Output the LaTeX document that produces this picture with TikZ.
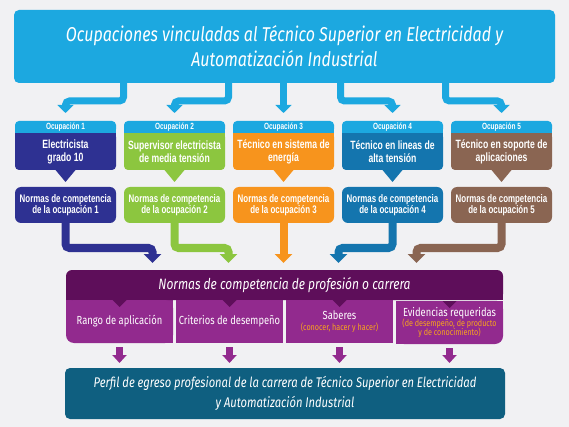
\documentclass[tikz,border=0pt]{standalone}
\usepackage{fontspec}
\setmainfont{Fira Sans}
\newfontfamily\condit[FakeStretch=0.8]{Fira Sans}
\newfontfamily\narrowbf[FakeStretch=0.72]{Liberation Sans}
\usetikzlibrary{positioning,arrows.meta}
\definecolor{bgc}{HTML}{F1F1F3}
\definecolor{cyanc}{HTML}{1CA8E0}
\definecolor{navyc}{HTML}{2E3192}
\definecolor{greenc}{HTML}{8CC63F}
\definecolor{orangec}{HTML}{F7941D}
\definecolor{bluec}{HTML}{1475AE}
\definecolor{brownc}{HTML}{8A6552}
\definecolor{plumc}{HTML}{5E0E5A}
\definecolor{violetc}{HTML}{922A8E}
\definecolor{tealc}{HTML}{0F5F80}
\definecolor{goldc}{HTML}{F9A51B}
\pgfdeclarelayer{background}
\pgfsetlayers{background,main}
\begin{document}
\begin{tikzpicture}
                    [x=1pt, y=-1pt,
                    topbox/.style={rectangle, rounded corners=5pt,
                        fill=cyanc, text=white, align=center,
                        minimum width=541pt, minimum height=73pt,
                        font=\condit\itshape\fontsize{20}{25}\selectfont},
                    occhead/.style={rectangle, rounded corners=4pt,
                        fill=cyanc, text=white, inner sep=0pt,
                        minimum width=101pt, minimum height=12pt,
                        font=\narrowbf\bfseries\fontsize{9}{9}\selectfont},
                    occ/.style={rectangle, rounded corners=4pt,
                        fill=#1, text=white, align=center, inner sep=0pt,
                        minimum width=101pt, minimum height=37pt,
                        font=\narrowbf\bfseries\fontsize{12}{13}\selectfont},
                    normbox/.style={rectangle, rounded corners=6pt,
                        fill=#1, text=white, align=center, inner sep=0pt,
                        minimum width=101pt, minimum height=36pt,
                        font=\narrowbf\bfseries\fontsize{11}{11.5}\selectfont},
                    profbox/.style={rectangle, rounded corners=6pt,
                        fill=plumc, text=white, inner sep=0pt,
                        minimum width=437pt, minimum height=30pt,
                        font=\condit\itshape\fontsize{15}{18}\selectfont},
                    subbox/.style={rectangle, fill=violetc, text=white,
                        align=center, inner sep=0pt,
                        minimum width=107pt, minimum height=43pt,
                        font=\condit\fontsize{11.7}{12}\selectfont},
                    perfil/.style={rectangle, rounded corners=5pt,
                        fill=tealc, text=white, align=center,
                        minimum width=440pt, minimum height=51pt,
                        font=\condit\itshape\fontsize{14}{20}\selectfont},
                    cflow/.style={draw=cyanc, line width=7pt,
                        rounded corners=4pt, shorten >=8pt,
                        -{Triangle[width=16pt,length=8pt]}},
                    flow/.style={draw=#1, line width=8pt,
                        rounded corners=4pt, shorten >=7pt,
                        -{Triangle[width=17pt,length=9pt]}},
                    dnarrow/.style={draw=violetc, line width=7pt,
                        shorten <=4pt, shorten >=5pt,
                        -{Triangle[width=14pt,length=8pt]}},
                    outer sep=0pt]

                    \node[topbox] (title) at (284.5,46.5)
                        {Ocupaciones vinculadas al Técnico Superior en  Electricidad y\\
                         Automatización Industrial};

                    % ocupaciones
                    \node[occ=navyc] (o1) at (65.5,151.5)
                        {Electricista\\grado 10};
                    \node[occ=greenc] (o2) at (174.5,151.5)
                        {Supervisor electricista\\de media tensión};
                    \node[occ=orangec] (o3) at (283.5,151.5)
                        {Técnico en sistema de\\energía};
                    \node[occ=bluec] (o4) at (392.5,151.5)
                        {Técnico en lineas de\\alta tensión};
                    \node[occ=brownc] (o5) at (501.5,151.5)
                        {Técnico en soporte de\\aplicaciones};

                    \node[occhead, above=0pt of o1] (h1) {Ocupación 1};
                    \node[occhead, above=0pt of o2] (h2) {Ocupación 2};
                    \node[occhead, above=0pt of o3] (h3) {Ocupación 3};
                    \node[occhead, above=0pt of o4] (h4) {Ocupación 4};
                    \node[occhead, above=0pt of o5] (h5) {Ocupación 5};

                    \node[normbox=navyc, below=17pt of o1] (n1)
                        {Normas de competencia\\de la ocupación 1};
                    \node[normbox=greenc, below=17pt of o2] (n2)
                        {Normas de competencia\\de la ocupación 2};
                    \node[normbox=orangec, below=17pt of o3] (n3)
                        {Normas de competencia\\de la ocupación 3};
                    \node[normbox=bluec, below=17pt of o4] (n4)
                        {Normas de competencia\\de la ocupación 4};
                    \node[normbox=brownc, below=17pt of o5] (n5)
                        {Normas de competencia\\de la ocupación 5};

                    % profesion o carrera
                    \node[profbox] (prof) at (284.5,285)
                        {Normas de competencia de profesión o carrera};
                    \node[subbox, rounded corners=8pt] (s1) at (119.5,321.5)
                        {Rango de aplicación};
                    \node[subbox] (s2) at (229.5,321.5)
                        {Criterios de desempeño};
                    \node[subbox] (s3) at (339.5,321.5)
                        {Saberes\\[-1pt]{\color{goldc}\fontsize{9}{9}\selectfont
                         (conocer, hacer y hacer)}};
                    \node[subbox, rounded corners=8pt] (s4) at (449.5,322.5)
                        {Evidencias requeridas\\[-2pt]{\color{goldc}\fontsize{9}{9}\selectfont
                         (de desempeño, de producto}\\[-3pt]{\color{goldc}\fontsize{9}{9}\selectfont
                         y de conocimiento)}};

                    \node[perfil] (egreso) at (285,393.5)
                        {Perfil de egreso profesional de la carrera de Técnico Superior en Electricidad\\
                         y Automatización Industrial};

                    % square joins behind the rounded nodes
                    \begin{pgfonlayer}{background}
                        \fill[bgc] (0,0) rectangle (569,427);
                        \foreach \i/\c in {1/navyc,2/greenc,3/orangec,4/bluec,5/brownc}{
                            \fill[cyanc] (h\i.west) rectangle (h\i.south east);
                            \fill[\c] (o\i.north west) rectangle (o\i.east);
                        }
                        \fill[plumc] (prof.west) rectangle (prof.south east);
                        \fill[violetc] (s1.north west) rectangle (s1.east);
                        \fill[violetc] (s1.north) rectangle (s1.south east);
                        \fill[violetc] (s4.north west) rectangle (s4.east);
                        \fill[violetc] (s4.north west) rectangle (s4.south);
                    \end{pgfonlayer}

                    \foreach \i/\c in {1/navyc,2/greenc,3/orangec,4/bluec,5/brownc}
                        \fill[\c] ([xshift=-10pt]o\i.south) -- ([xshift=10pt]o\i.south)
                            -- ([yshift=-12pt]o\i.south) -- cycle;
                    \foreach \i in {1,2,3,4}
                        \fill[plumc] ([xshift=-7pt]s\i.north) -- ([xshift=7pt]s\i.north)
                            -- ([yshift=-7pt]s\i.north) -- cycle;

                    \draw[cflow] ([xshift=-161pt]title.south) -- ++(0,18) -| (h1.north);
                    \draw[cflow] ([xshift=-56pt]title.south) -- ++(0,18) -| (h2.north);
                    \draw[cflow] (title.south -| h3.north) -- (h3.north);
                    \draw[cflow] ([xshift=56pt]title.south) -- ++(0,18) -| (h4.north);
                    \draw[cflow] ([xshift=161pt]title.south) -- ++(0,18) -| (h5.north);

                    \draw[flow=navyc] (n1.south) -- ++(0,25) -| ([xshift=-132pt]prof.north);
                    \draw[flow=greenc] (n2.south) -- ++(0,25) -| ([xshift=-56pt]prof.north);
                    \draw[flow=orangec] (n3.south) -- (n3.south |- prof.north);
                    \draw[flow=bluec] (n4.south) -- ++(0,25) -| ([xshift=54pt]prof.north);
                    \draw[flow=brownc] (n5.south) -- ++(0,25) -| ([xshift=132pt]prof.north);

                    \draw[dnarrow] (s1.south) -- (s1.south |- egreso.north);
                    \draw[dnarrow] (s2.south) -- (s2.south |- egreso.north);
                    \draw[dnarrow] (s3.south) -- (s3.south |- egreso.north);
                    \draw[dnarrow] (s4.south) -- (s4.south |- egreso.north);
                \end{tikzpicture}
\end{document}
